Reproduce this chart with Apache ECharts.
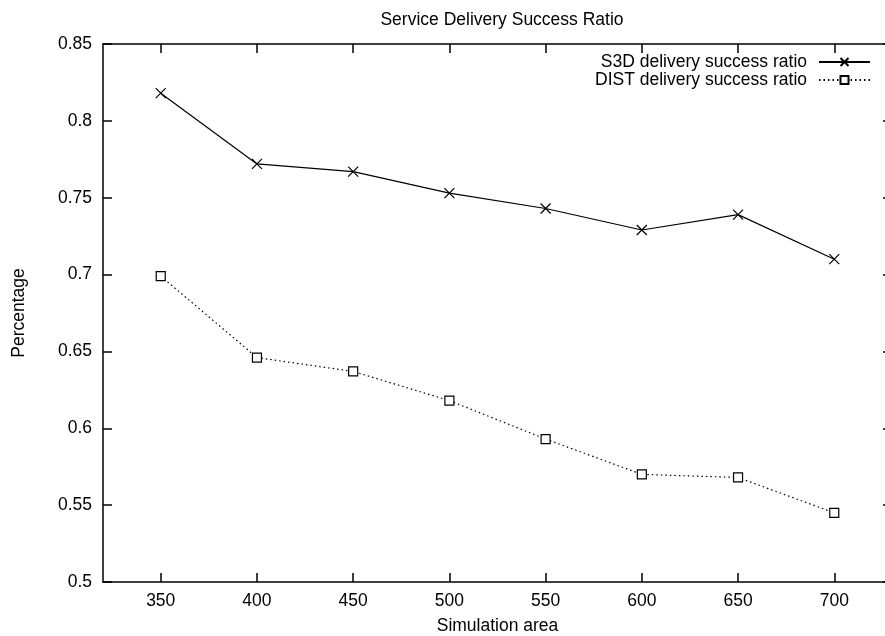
<!DOCTYPE html>
<html>
<head>
<meta charset="utf-8">
<script src="https://cdn.jsdelivr.net/npm/echarts@6/dist/echarts.min.js"></script>
<style>
html,body{margin:0;padding:0;background:#fff;}
#chart{width:885px;height:636px;}
</style>
</head>
<body>
<div id="chart"></div>
<script>
var areas = [350, 400, 450, 500, 550, 600, 650, 700];
var s3dRatio = [0.818, 0.772, 0.767, 0.753, 0.743, 0.729, 0.739, 0.710];
var distRatio = [0.699, 0.646, 0.637, 0.618, 0.593, 0.570, 0.568, 0.545];
var xTicks = [350, 400, 450, 500, 550, 600, 650, 700];
var seriesNames = ['S3D delivery success ratio', 'DIST delivery success ratio'];

var FONT = "'Liberation Sans', Arial, Helvetica, sans-serif";
var FS = 17.5;

function pairs(xs, ys) { return xs.map(function (x, i) { return [x, ys[i]]; }); }

var chart = echarts.init(document.getElementById('chart'), null, {renderer: 'canvas'});

var axisLine = {show: true, lineStyle: {color: '#000', width: 1.5}};

chart.setOption({
  animation: false,
  backgroundColor: '#fff',
  title: {
    text: 'Service Delivery Success Ratio',
    left: 497, top: 6, textAlign: 'center',
    textStyle: {fontFamily: FONT, fontSize: FS, fontWeight: 'normal', color: '#000'}
  },
  legend: {
    data: seriesNames,
    orient: 'vertical', align: 'right',
    right: 14, top: 53, padding: 0,
    itemWidth: 51, itemHeight: 10, itemGap: 0,
    textStyle: {fontFamily: FONT, fontSize: FS, lineHeight: 17.6, color: '#000', padding: [0, 7, 0, 0]}
  },
  grid: {left: 103, right: -7, top: 44, bottom: 54, containLabel: false, outerBoundsMode: 'none'},
  xAxis: [{
    type: 'value', position: 'bottom', min: 320, max: 730,
    name: 'Simulation area', nameLocation: 'middle', nameGap: 35,
    nameTextStyle: {fontFamily: FONT, fontSize: FS, color: '#000'},
    axisLine: axisLine,
    axisTick: {show: true, inside: true, length: 9, customValues: xTicks, lineStyle: {color: '#000', width: 1.5}},
    axisLabel: {customValues: xTicks, margin: 10, fontFamily: FONT, fontSize: FS, color: '#000'},
    splitLine: {show: false}
  }, {
    type: 'value', position: 'top', min: 320, max: 730,
    axisLine: axisLine,
    axisTick: {show: true, inside: true, length: 9, customValues: xTicks, lineStyle: {color: '#000', width: 1.5}},
    axisLabel: {show: false},
    splitLine: {show: false}
  }],
  yAxis: [{
    type: 'value', position: 'left', min: 0.5, max: 0.85, interval: 0.05,
    name: 'Percentage', nameLocation: 'middle', nameGap: 75, nameRotate: 90,
    nameTextStyle: {fontFamily: FONT, fontSize: FS, color: '#000'},
    axisLine: axisLine,
    axisTick: {show: true, inside: true, length: 9, lineStyle: {color: '#000', width: 1.5}},
    axisLabel: {margin: 11, fontFamily: FONT, fontSize: FS, color: '#000',
      formatter: function (v) { return String(+v.toFixed(2)); }},
    splitLine: {show: false}
  }, {
    type: 'value', position: 'right', min: 0.5, max: 0.85, interval: 0.05,
    axisLine: {show: false},
    axisTick: {show: true, inside: true, length: 9, lineStyle: {color: '#000', width: 1.5}},
    axisLabel: {show: false},
    splitLine: {show: false}
  }],
  series: [{
    name: seriesNames[0], type: 'line', xAxisIndex: 0, yAxisIndex: 0,
    data: pairs(areas, s3dRatio),
    symbol: 'path://M0,0L10,10M10,0L0,10', symbolSize: 10,
    itemStyle: {color: '#000', borderColor: '#000', borderWidth: 1.2},
    lineStyle: {color: '#000', width: 1.2, type: 'solid'},
    emphasis: {disabled: true}
  }, {
    name: seriesNames[1], type: 'line', xAxisIndex: 0, yAxisIndex: 0,
    data: pairs(areas, distRatio),
    symbol: 'rect', symbolSize: 9,
    itemStyle: {color: '#fff', borderColor: '#000', borderWidth: 1.2},
    lineStyle: {color: '#000', width: 1.2, type: [1.5, 3]},
    emphasis: {disabled: true}
  }]
});
</script>
</body>
</html>
